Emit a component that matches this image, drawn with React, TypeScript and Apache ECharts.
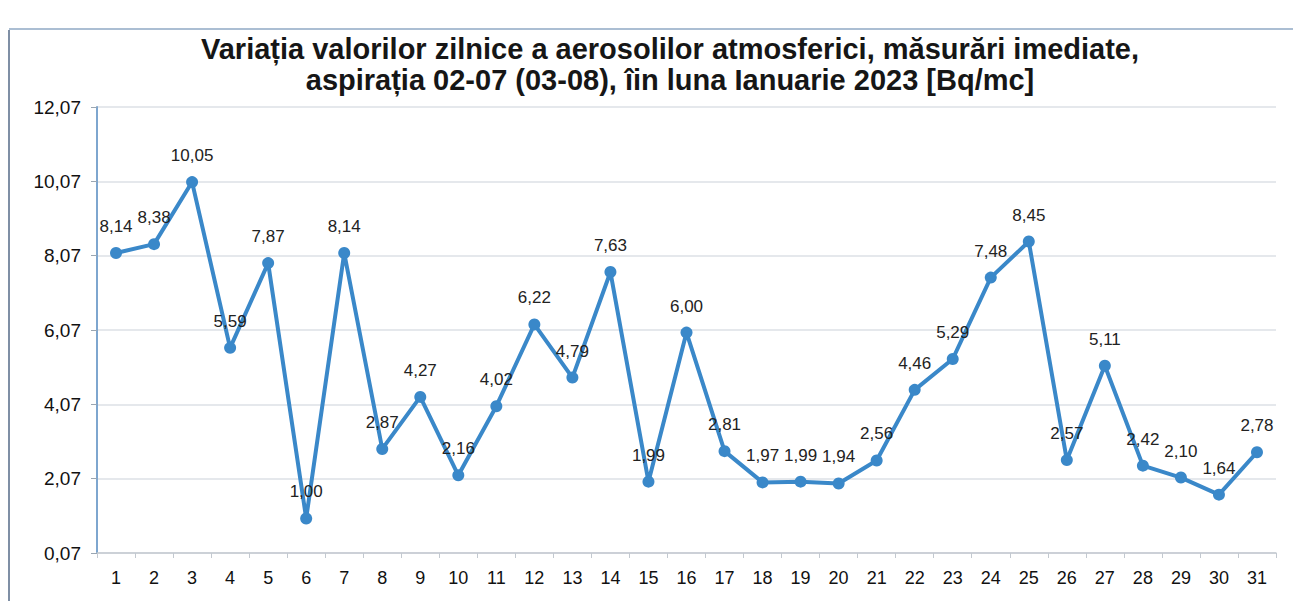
import React, { useEffect, useRef } from "react";
import * as echarts from "echarts";

const titleLines = [
  "Variația valorilor zilnice a aerosolilor atmosferici, măsurări imediate,",
  "aspirația 02-07 (03-08), îin luna Ianuarie 2023 [Bq/mc]",
];
const days = [
  "1", "2", "3", "4", "5", "6", "7", "8", "9", "10", "11", "12", "13", "14", "15", "16",
  "17", "18", "19", "20", "21", "22", "23", "24", "25", "26", "27", "28", "29", "30", "31",
];
const values = [
  8.14, 8.38, 10.05, 5.59, 7.87, 1.0, 8.14, 2.87, 4.27, 2.16, 4.02, 6.22, 4.79, 7.63, 1.99, 6.0,
  2.81, 1.97, 1.99, 1.94, 2.56, 4.46, 5.29, 7.48, 8.45, 2.57, 5.11, 2.42, 2.1, 1.64, 2.78,
];
const yMin = 0.07;
const yMax = 12.07;
const yStep = 2;

const fmt = (v: number) => v.toFixed(2).replace(".", ",");

export default function App() {
  const ref = useRef<HTMLDivElement>(null);
  useEffect(() => {
    if (!ref.current) return;
    const chart = echarts.init(ref.current, undefined, { renderer: "svg" });
    chart.setOption({
      animation: false,
      backgroundColor: "#ffffff",
      title: {
        text: titleLines.join("\n"),
        left: 665,
        textAlign: "center",
        top: 28,
        textStyle: {
          fontFamily: "Liberation Sans, Arial, sans-serif",
          fontWeight: "bold",
          fontSize: 29,
          lineHeight: 31,
          color: "#161616",
        },
      },
      graphic: [
        {
          type: "line",
          shape: { x1: 9, y1: 30, x2: 9, y2: 601 },
          style: { stroke: "#7f8fa5", lineWidth: 2 },
        },
        {
          type: "line",
          shape: { x1: 9, y1: 29, x2: 1293, y2: 29 },
          style: { stroke: "#8fa8c4", lineWidth: 1.5 },
        },
      ],
      grid: { left: 97, right: 17, top: 107, bottom: 48, containLabel: false },
      xAxis: {
        type: "category",
        data: days,
        boundaryGap: true,
        axisLine: { lineStyle: { color: "#c3c9d0", width: 1.5 } },
        axisTick: { show: true, alignWithLabel: false, lineStyle: { color: "#c3c9d0" }, length: 5 },
        axisLabel: {
          color: "#111111",
          fontSize: 18,
          fontFamily: "Liberation Sans, Arial, sans-serif",
          margin: 16,
        },
        splitLine: { show: false },
      },
      yAxis: {
        type: "value",
        min: yMin,
        max: yMax,
        interval: yStep,
        axisLine: { show: true, lineStyle: { color: "#7ea6cf", width: 2 } },
        axisTick: { show: true, length: 6, lineStyle: { color: "#9aa6b2" } },
        axisLabel: {
          color: "#111111",
          fontSize: 19,
          fontFamily: "Liberation Sans, Arial, sans-serif",
          margin: 16,
          formatter: (v: number) => fmt(v),
        },
        splitLine: { show: true, lineStyle: { color: "#dde1e6", width: 1.5 } },
      },
      series: [
        {
          type: "line",
          data: values,
          symbol: "circle",
          symbolSize: 12,
          lineStyle: { color: "#3a88c9", width: 4 },
          itemStyle: { color: "#3a88c9" },
          label: {
            show: true,
            position: "top",
            distance: 12,
            color: "#222222",
            fontSize: 17,
            fontFamily: "Liberation Sans, Arial, sans-serif",
            formatter: (p: any) => fmt(p.value),
          },
        },
      ],
    });
    return () => chart.dispose();
  }, []);
  return (
    <div
      ref={ref}
      style={{ position: "absolute", left: 0, top: 0, width: 1293, height: 601 }}
    />
  );
}
